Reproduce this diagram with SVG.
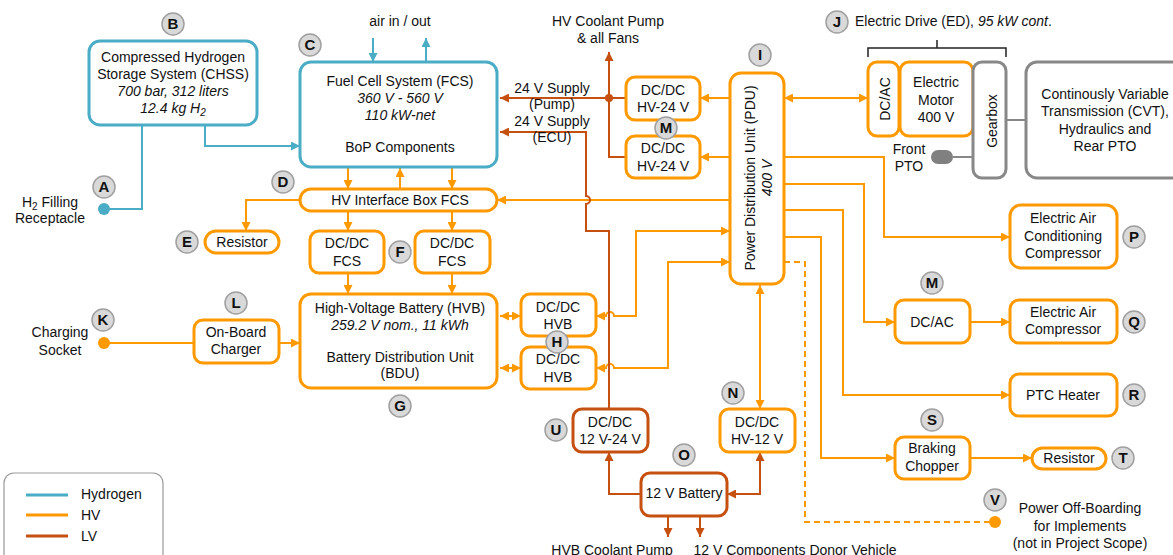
<svg xmlns="http://www.w3.org/2000/svg" width="1173" height="555" viewBox="0 0 1173 555">
<style>
text{font-family:"Liberation Sans",Arial,sans-serif;font-size:14px;fill:#111;text-anchor:middle}
.it{font-style:italic}
.lbl circle{fill:#d9d9d9;stroke:#a0a0a0;stroke-width:1.5}
.lbl text{font-weight:bold;font-size:15px}
.bh{fill:#fff;stroke:#FF9900;stroke-width:3}
.bb{fill:#fff;stroke:#4BACC6;stroke-width:3}
.bl{fill:#fff;stroke:#C5500F;stroke-width:3}
.bg{fill:#fff;stroke:#888;stroke-width:3}
.hv{fill:none;stroke:#FF9900;stroke-width:2}
.lv{fill:none;stroke:#C5500F;stroke-width:2}
.h2{fill:none;stroke:#4BACC6;stroke-width:2}
.gr{fill:none;stroke:#888;stroke-width:2}
.ah{marker-end:url(#aH)}
.ahb{marker-start:url(#aH);marker-end:url(#aH)}
.al{marker-end:url(#aL)}
.alb{marker-start:url(#aL);marker-end:url(#aL)}
.ab{marker-end:url(#aB)}
</style>
<defs>
<marker id="aH" viewBox="0 0 10 10" refX="10" refY="5" markerWidth="9" markerHeight="9" markerUnits="userSpaceOnUse" orient="auto-start-reverse"><path d="M0,0 L10,5 L0,10 z" fill="#FF9900"/></marker>
<marker id="aL" viewBox="0 0 10 10" refX="10" refY="5" markerWidth="9" markerHeight="9" markerUnits="userSpaceOnUse" orient="auto-start-reverse"><path d="M0,0 L10,5 L0,10 z" fill="#C5500F"/></marker>
<marker id="aB" viewBox="0 0 10 10" refX="10" refY="5" markerWidth="9" markerHeight="9" markerUnits="userSpaceOnUse" orient="auto-start-reverse"><path d="M0,0 L10,5 L0,10 z" fill="#4BACC6"/></marker>
</defs>
<rect width="1173" height="555" fill="#fff"/>

<g id="connectors">
<!-- hydrogen -->
<path class="h2 ab" d="M205,126 V146 H300"/>
<path class="h2" d="M142,126 V209 H104"/>
<circle cx="104" cy="209" r="6" fill="#4BACC6"/>
<path class="h2 ab" d="M373,38 V62"/>
<path class="h2 ab" d="M426,62 V38"/>
<!-- HV -->
<path class="hv ah" d="M348,168 V189"/>
<path class="hv ah" d="M452,168 V189"/>
<path class="hv ah" d="M400,189 V168"/>
<path class="hv ah" d="M348,211 V231"/>
<path class="hv ah" d="M452,211 V231"/>
<path class="hv ah" d="M348,273 V294"/>
<path class="hv ah" d="M452,273 V294"/>
<path class="hv ah" d="M300,200 H246 V231"/>
<path class="hv" d="M104,343 H194"/>
<circle cx="104" cy="343" r="6" fill="#FF9900"/>
<path class="hv ah" d="M279,343 H300"/>
<path class="hv ahb" d="M500,316 H521"/>
<path class="hv ahb" d="M500,368 H521"/>
<path class="hv ahb" d="M596,316 H606 a4,4 0 0 1 8,0 H636 V231 H730"/>
<path class="hv ahb" d="M596,368 H606 a4,4 0 0 1 8,0 H668 V262 H730"/>
<path class="hv ah" d="M730,200 H497"/>
<path class="hv ah" d="M730,98 H700"/>
<path class="hv ah" d="M730,157 H700"/>
<path class="hv ahb" d="M784,98 H868"/>
<path class="hv ah" d="M784,157 H884 V237 H1010"/>
<path class="hv ah" d="M784,184 H864 V322 H895"/>
<path class="hv ah" d="M970,322 H1010"/>
<path class="hv ah" d="M784,210 H843 V395 H1010"/>
<path class="hv ah" d="M784,237 H821 V458 H895"/>
<path class="hv ah" d="M970,458 H1032"/>
<path class="hv ahb" d="M760,285 V409"/>
<path class="hv" stroke-dasharray="6,4" d="M784,262 H805 V522 H995"/>
<circle cx="995" cy="522" r="6" fill="#FF9900"/>
<!-- LV -->
<path class="lv al" d="M626,98 H500"/>
<circle cx="609" cy="98" r="4" fill="#C5500F"/>
<path class="lv al" d="M609,98 V52"/>
<path class="lv" d="M609,98 V157 H626"/>
<path class="lv al" d="M609,409 V231 H586 V204 a4,4 0 0 0 0,-8 V132 H500"/>
<path class="lv al" d="M641,494 H609 V452"/>
<path class="lv alb" d="M727,494 H760 V452"/>
<path class="lv al" d="M668,516 V537"/>
<path class="lv al" d="M700,516 V537"/>
<!-- gray -->
<path class="gr" d="M1006,120 H1026"/>
<path class="gr" d="M953,157 H973"/>
<path fill="none" stroke="#222" stroke-width="1.5" d="M868,57 V48 H1006 V57 M937,48 V40"/>
</g>

<g id="chss"><rect class="bb" x="89" y="41" width="168" height="84" rx="11"/>
<text x="173" y="62">Compressed Hydrogen</text><text x="173" y="79">Storage System (CHSS)</text>
<text x="173" y="96" class="it">700 bar, 312 liters</text><text x="173" y="113" class="it">12.4 kg H<tspan font-size="10" dy="3">2</tspan></text></g>

<g id="fcs"><rect class="bb" x="300" y="62" width="197" height="105" rx="11"/>
<text x="400" y="86">Fuel Cell System (FCS)</text><text x="400" y="103" class="it">360 V - 560 V</text>
<text x="400" y="120" class="it">110 kW-net</text><text x="400" y="152">BoP Components</text></g>
<text x="400" y="26">air in / out</text>
<text x="608" y="26">HV Coolant Pump</text><text x="608" y="43">&amp; all Fans</text>
<text x="552" y="93">24 V Supply</text><text x="552" y="109">(Pump)</text>
<text x="552" y="126">24 V Supply</text><text x="552" y="142">(ECU)</text>

<g id="h2fill"><text x="50" y="207">H<tspan font-size="10" dy="3">2</tspan><tspan dy="-3"> Filling</tspan></text><text x="50" y="223">Receptacle</text></g>

<g id="hvib"><rect class="bh" x="300" y="189" width="197" height="22" rx="11"/><text x="400" y="205">HV Interface Box FCS</text></g>
<g id="res1"><rect class="bh" x="205" y="231" width="74" height="22" rx="11"/><text x="242" y="247">Resistor</text></g>
<g id="dcfcs1"><rect class="bh" x="310" y="231" width="74" height="42" rx="9"/><text x="347" y="248">DC/DC</text><text x="347" y="266">FCS</text></g>
<g id="dcfcs2"><rect class="bh" x="415" y="231" width="75" height="42" rx="9"/><text x="452" y="248">DC/DC</text><text x="452" y="266">FCS</text></g>
<g id="hvb"><rect class="bh" x="300" y="294" width="197" height="94" rx="11"/>
<text x="400" y="313">High-Voltage Battery (HVB)</text><text x="400" y="330" class="it">259.2 V nom., 11 kWh</text>
<text x="400" y="362">Battery Distribution Unit</text><text x="400" y="378">(BDU)</text></g>
<g id="obc"><rect class="bh" x="194" y="320" width="85" height="43" rx="9"/><text x="236" y="337">On-Board</text><text x="236" y="354">Charger</text></g>
<g id="socket"><text x="60" y="337">Charging</text><text x="60" y="355">Socket</text></g>
<g id="dchvb1"><rect class="bh" x="521" y="294" width="75" height="42" rx="9"/><text x="558" y="312">DC/DC</text><text x="558" y="329">HVB</text></g>
<g id="dchvb2"><rect class="bh" x="521" y="347" width="75" height="42" rx="9"/><text x="558" y="364">DC/DC</text><text x="558" y="382">HVB</text></g>
<g id="dc24a"><rect class="bh" x="626" y="77" width="74" height="43" rx="9"/><text x="663" y="95">DC/DC</text><text x="663" y="112">HV-24 V</text></g>
<g id="dc24b"><rect class="bh" x="626" y="136" width="74" height="42" rx="9"/><text x="663" y="153">DC/DC</text><text x="663" y="171">HV-24 V</text></g>
<g id="pdu"><rect class="bh" x="730" y="73" width="54" height="211" rx="11"/>
<text transform="translate(755,178) rotate(-90)">Power Distribution Unit (PDU)</text>
<text class="it" transform="translate(772,178) rotate(-90)">400 V</text></g>
<g id="dcu"><rect class="bl" x="573" y="409" width="75" height="43" rx="9"/><text x="610" y="427">DC/DC</text><text x="610" y="444">12 V-24 V</text></g>
<g id="dcn"><rect class="bh" x="720" y="409" width="75" height="43" rx="9"/><text x="757" y="427">DC/DC</text><text x="757" y="444">HV-12 V</text></g>
<g id="bat12"><rect class="bl" x="641" y="473" width="86" height="43" rx="9"/><text x="684" y="498">12 V Battery</text></g>
<text x="612" y="555">HVB Coolant Pump</text>
<text x="795" y="555">12 V Components Donor Vehicle</text>

<g id="ed">
<rect class="bh" x="868" y="62" width="31" height="74" rx="9"/>
<text transform="translate(890,99) rotate(-90)">DC/AC</text>
<rect class="bh" x="900" y="62" width="73" height="74" rx="9"/>
<text x="936" y="87">Electric</text><text x="936" y="105">Motor</text><text x="936" y="122">400 V</text>
</g>
<text x="855" y="26" style="text-anchor:start">Electric Drive (ED), <tspan class="it">95 kW cont</tspan>.</text>
<g id="gearbox"><rect class="bg" x="973" y="62" width="33" height="116" rx="9"/><text transform="translate(997,121) rotate(-90)">Gearbox</text></g>
<g id="cvt"><rect class="bg" x="1026" y="62" width="160" height="116" rx="11"/>
<text x="1105" y="99">Continously Variable</text><text x="1105" y="116">Transmission (CVT),</text>
<text x="1105" y="134">Hydraulics and</text><text x="1105" y="151">Rear PTO</text></g>
<g id="fpto"><rect x="931" y="150" width="22" height="14" rx="7" fill="#808080"/><text x="909" y="154">Front</text><text x="909" y="171">PTO</text></g>

<g id="acc"><rect class="bh" x="1010" y="205" width="107" height="63" rx="11"/>
<text x="1063" y="223">Electric Air</text><text x="1063" y="241">Conditioning</text><text x="1063" y="258">Compressor</text></g>
<g id="dcac"><rect class="bh" x="895" y="300" width="75" height="43" rx="9"/><text x="932" y="327">DC/AC</text></g>
<g id="eac"><rect class="bh" x="1010" y="300" width="107" height="43" rx="9"/><text x="1063" y="317">Electric Air</text><text x="1063" y="334">Compressor</text></g>
<g id="ptc"><rect class="bh" x="1010" y="374" width="107" height="42" rx="9"/><text x="1063" y="400">PTC Heater</text></g>
<g id="chop"><rect class="bh" x="895" y="437" width="75" height="42" rx="9"/><text x="932" y="453">Braking</text><text x="932" y="471">Chopper</text></g>
<g id="res2"><rect class="bh" x="1032" y="448" width="74" height="21" rx="10.5"/><text x="1069" y="463">Resistor</text></g>
<g id="offb"><text x="1080" y="513">Power Off-Boarding</text><text x="1080" y="531">for Implements</text><text x="1080" y="548">(not in Project Scope)</text></g>

<g id="legend"><rect x="4" y="473" width="159" height="100" rx="10" fill="none" stroke="#999" stroke-width="1.2"/>
<line x1="26" y1="495" x2="68" y2="495" stroke="#4BACC6" stroke-width="3"/>
<line x1="26" y1="515" x2="68" y2="515" stroke="#FF9900" stroke-width="3"/>
<line x1="26" y1="536" x2="68" y2="536" stroke="#C5500F" stroke-width="3"/>
<text x="81" y="499" style="text-anchor:start">Hydrogen</text><text x="81" y="520" style="text-anchor:start">HV</text><text x="81" y="541" style="text-anchor:start">LV</text></g>

<g id="labels">
<g class="lbl"><circle cx="104" cy="187" r="11"/><text x="104" y="192">A</text></g>
<g class="lbl"><circle cx="173" cy="24" r="11"/><text x="173" y="29">B</text></g>
<g class="lbl"><circle cx="310" cy="45" r="11"/><text x="310" y="50">C</text></g>
<g class="lbl"><circle cx="283" cy="182" r="11"/><text x="283" y="187">D</text></g>
<g class="lbl"><circle cx="187" cy="242" r="11"/><text x="187" y="247">E</text></g>
<g class="lbl"><circle cx="400" cy="252" r="11"/><text x="400" y="257">F</text></g>
<g class="lbl"><circle cx="400" cy="406" r="11"/><text x="400" y="411">G</text></g>
<g class="lbl"><circle cx="557" cy="342" r="11"/><text x="557" y="347">H</text></g>
<g class="lbl"><circle cx="760" cy="55" r="11"/><text x="760" y="60">I</text></g>
<g class="lbl"><circle cx="837" cy="22" r="11"/><text x="837" y="27">J</text></g>
<g class="lbl"><circle cx="103" cy="320" r="11"/><text x="103" y="325">K</text></g>
<g class="lbl"><circle cx="236" cy="303" r="11"/><text x="236" y="308">L</text></g>
<g class="lbl"><circle cx="666" cy="128" r="11"/><text x="666" y="133">M</text></g>
<g class="lbl"><circle cx="932" cy="283" r="11"/><text x="932" y="288">M</text></g>
<g class="lbl"><circle cx="733" cy="393" r="11"/><text x="733" y="398">N</text></g>
<g class="lbl"><circle cx="684" cy="455" r="11"/><text x="684" y="460">O</text></g>
<g class="lbl"><circle cx="1134" cy="237" r="11"/><text x="1134" y="242">P</text></g>
<g class="lbl"><circle cx="1134" cy="322" r="11"/><text x="1134" y="327">Q</text></g>
<g class="lbl"><circle cx="1134" cy="395" r="11"/><text x="1134" y="400">R</text></g>
<g class="lbl"><circle cx="932" cy="420" r="11"/><text x="932" y="425">S</text></g>
<g class="lbl"><circle cx="1123" cy="458" r="11"/><text x="1123" y="463">T</text></g>
<g class="lbl"><circle cx="556" cy="430" r="11"/><text x="556" y="435">U</text></g>
<g class="lbl"><circle cx="995" cy="500" r="11"/><text x="995" y="505">V</text></g>
</g>
</svg>
